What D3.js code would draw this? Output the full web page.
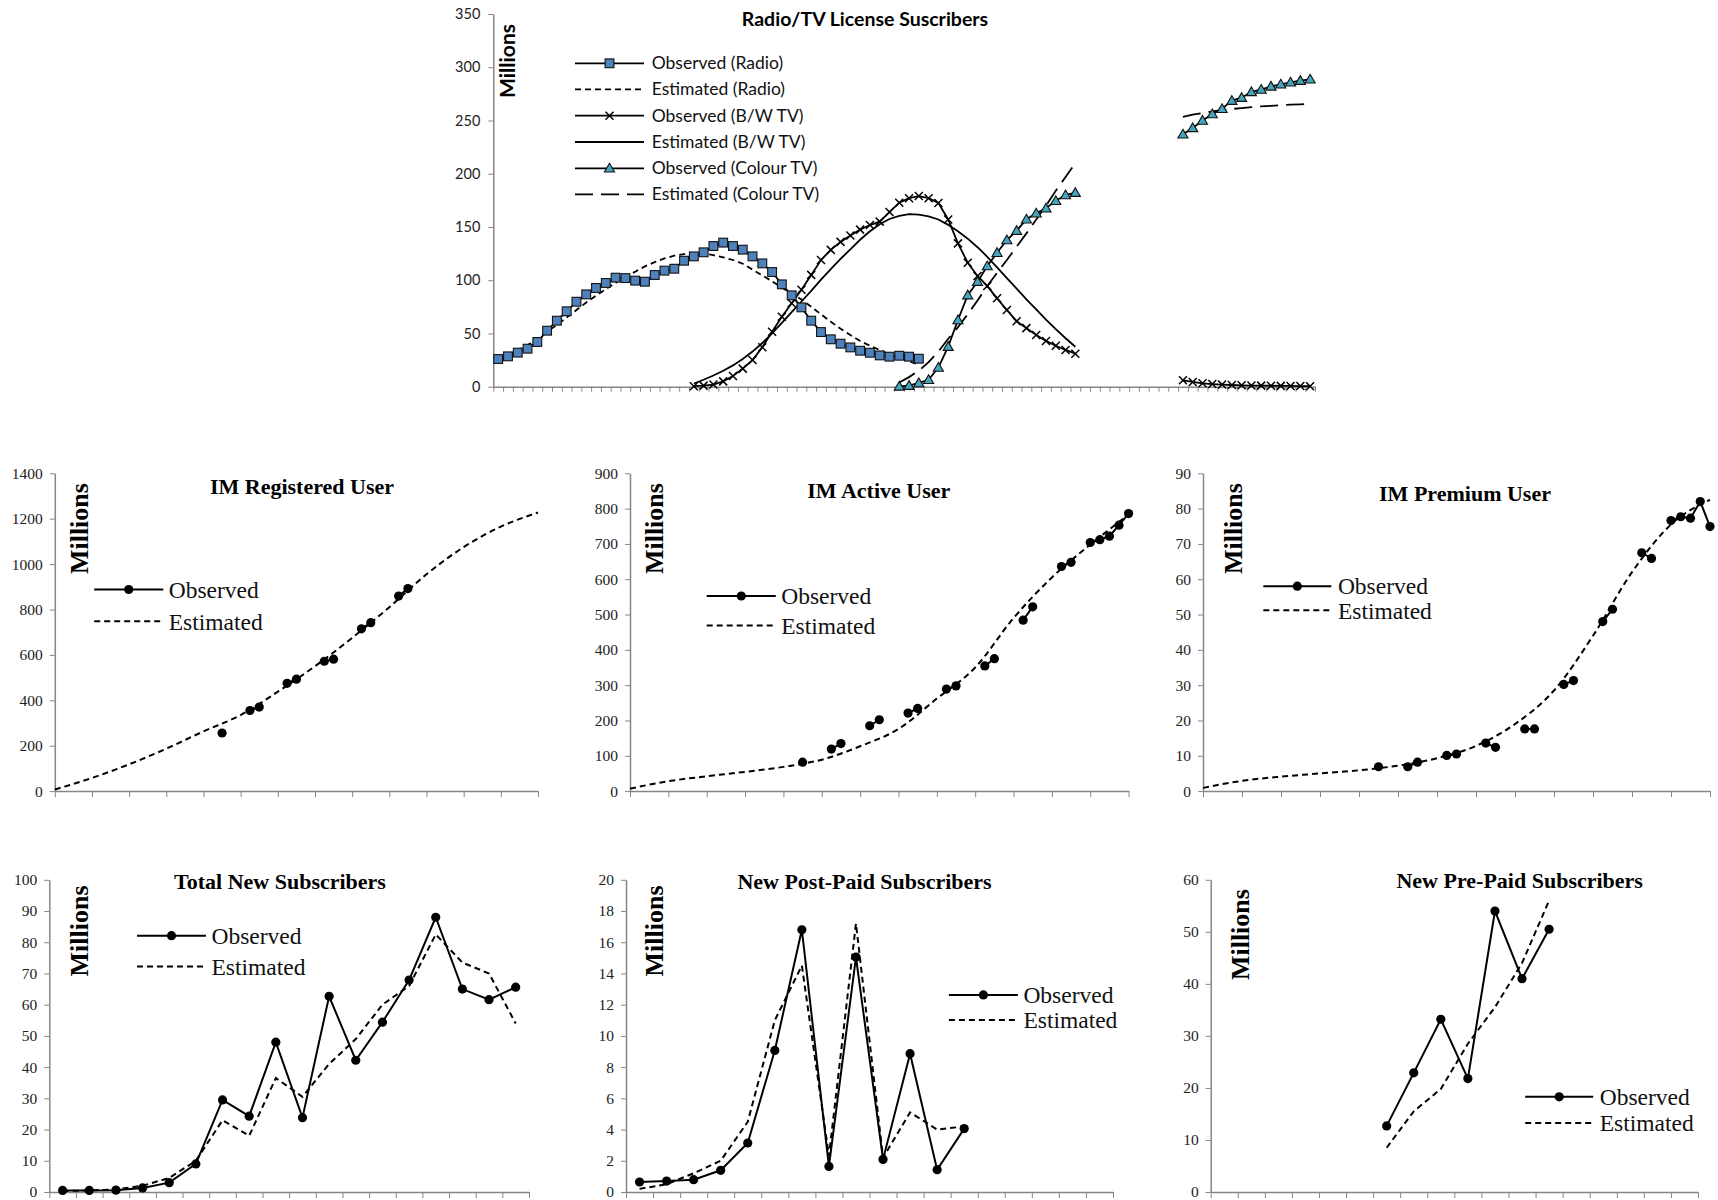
<!DOCTYPE html>
<html><head><meta charset="utf-8">
<script src="https://cdn.jsdelivr.net/npm/d3@7"></script>
<style>body{margin:0;background:#fff}svg{display:block}</style>
</head><body>
<svg id="c" width="1718" height="1200"></svg>
<script>
// ---------------- DATA ----------------
// Top chart: 84 periods (category index)
const tvPeriods = Array.from({length: 84}, (_, i) => i);
const tvYTicks = [0, 50, 100, 150, 200, 250, 300, 350];

const radioObsStart = 0;
const radioObs = [26,28.5,32,35.7,42,52.6,62,70.8,79.8,86.7,92.7,97.4,102.4,102,99.6,98.6,104.9,109,110.8,118.3,122.4,126.2,132.1,135.3,132.1,128.7,122.4,115.8,107.7,96.1,85.8,74.5,62,51.3,44.5,40.4,36.9,33.8,31.9,29.4,28.2,29.1,28.2,26.3];
const radioEstStart = 0;
const radioEst = [27,30,34,39,45,52,58,65,72,79,85.5,91.5,97.5,103,108,113,117,120.5,123,124.5,125.3,125,123.5,121.5,119,115.5,110,104.5,99,93,87.5,82,75,68,61,54.5,48.5,43,38.5,34.5,30.5,27,24,20.5];

const bwObsStart = 20;
const bwObs = [0.5,1,2,5,10,17,25,37,51.6,65.7,78.3,91,105,119,128.5,136,142,147.5,151.8,155,164,172.8,177,179,177,172.5,157,134.6,116.4,104,94.5,83,72,61.5,55,48.5,43,38.5,34.5,31];
const bwObs2Start = 70;
const bwObs2 = [6,4.5,3.2,2.5,2,1.6,1.3,1.1,1,0.9,0.8,0.7,0.6,0.5];
const bwEstStart = 20;
const bwEst = [3,6.5,10.5,15,20,26,33,41,50,60,70,80,90,100.5,110.5,120,129,138,146,152.5,157.5,160.5,162,161.5,160,157,152,146,139,131,122,112,102,92,82,72.5,63,54,45.5,37.5];

const colObsStart = 41;
const colObs = [0.3,1,3.5,6.5,18,37.6,62.6,86,98.6,113.3,125.8,137.7,146.5,157.2,162.8,167.5,174.6,180,182.2];
const colObs2Start = 70;
const colObs2 = [237,243,250,256,261,268.6,271.4,276.8,279,282,284,285.8,287.4,288.7];
const colEstStart = 41;
const colEst = [4,9,15,23,33,45,56,68,81,94.5,107,119,131.5,144,157,170,184,197,210];
const colEst2Start = 70;
const colEst2 = [253.5,255.5,257,258.5,259.8,260.8,261.7,262.5,263.2,263.8,264.3,264.8,265.2,265.6];

// IM charts: x in years (0..13), observed at quarter positions
const imYears = [0,1,2,3,4,5,6,7,8,9,10,11,12,13];
const regQuarters = [18,21,22,25,26,29,30,33,34,37,38];
const regObs = [256,355,370,475,493,572,581,715,742,859,892];
const regEst = [7,58,118,187,263,335,438,550,675,810,955,1075,1165,1227];

const actQuarters = [18,21,22,25,26,29,30,33,34,37,38,41,42,45,46,48,49,50,51,52];
const actObs = [81.8,119,134.5,185,202,221,234,289,298,354.5,375,484,522,636,648,704,712,722,753,786];
const actEst = [7,28,42,54.5,68.6,89,127,176,262,350,490,605,698,783];

const premQuarters = [18,21,22,25,26,29,30,33,34,37,38,41,42,45,46,48,49,50,51,52];
const premObs = [6.9,6.9,8.2,10.1,10.5,13.6,12.4,17.6,17.6,30.2,31.3,48,51.5,67.5,65.9,76.6,77.7,77.3,82,74.9];
const premEst = [0.9,2.9,4.1,5.0,5.9,7.2,9.3,12.8,19.0,28.5,44,62,75.5,82.5];

// Subscriber charts: 18 periods
const subPeriods = Array.from({length: 18}, (_, i) => i);
const totalObs = [0.5,0.5,0.6,1.3,3,9,29.5,24.3,48,23.8,62.7,42.2,54.4,67.9,88,65,61.6,65.6];
const totalEst = [0.3,0.5,0.8,2,4.5,10,23,18,36.5,30.5,41,49,60,66,82.5,73.5,70,54];
const postStart = 0;
const postObs = [0.64,0.7,0.79,1.39,3.14,9.07,16.8,1.64,15.05,2.09,8.86,1.43,4.06];
const postEst = [0.2,0.5,1.2,2,4.5,11,14.5,2.3,17.2,2.2,5.1,4,4.2];
const preStart = 6;
const preObs = [12.7,22.9,33.2,21.8,54,41,50.5];
const preEst = [8.5,15.5,19.8,28.5,35.5,44,56];

// ---------------- DRAWING ----------------
const svg = d3.select('#c');
const AX = '#868686';
const SANS = 'Lato, "Open Sans", sans-serif';
const SERIF = '"Liberation Serif", "Times New Roman", serif';

function styleAxis(g) {
  g.select('.domain').attr('stroke', AX).attr('stroke-width', 1.5);
  g.selectAll('.tick line').attr('stroke', AX).attr('stroke-width', 1);
}

// ===== Top chart =====
const tv = {left: 493.3, right: 1315, top: 14, bottom: 386.7};
const xTV = d3.scaleBand().domain(tvPeriods).range([tv.left, tv.right]);
const xTVb = d3.scaleLinear().domain([0, tvPeriods.length]).range([tv.left, tv.right]);
const yTV = d3.scaleLinear().domain([0, 350]).range([tv.bottom, tv.top]);
const cx = i => xTV(i) + xTV.bandwidth() / 2;

const gTop = svg.append('g');
gTop.append('g').attr('transform', `translate(0,${tv.bottom})`)
  .call(d3.axisBottom(xTVb).tickValues(d3.range(tvPeriods.length + 1)).tickSize(5).tickSizeOuter(0).tickFormat(''))
  .call(styleAxis);
gTop.append('g').attr('transform', `translate(${tv.left},0)`)
  .call(d3.axisLeft(yTV).tickValues(tvYTicks).tickSize(5).tickSizeOuter(0).tickPadding(8).tickFormat(d3.format('d')))
  .call(styleAxis)
  .call(g => g.selectAll('text').attr('font-family', SANS).attr('font-size', 14.5).attr('fill', '#222'));

const pts = (start, vals) => vals.map((v, j) => ({i: start + j, v}));
const lineTV = d3.line().x(d => cx(d.i)).y(d => yTV(d.v));

function tvPath(data, dash) {
  gTop.append('path').datum(data).attr('d', lineTV)
    .attr('fill', 'none').attr('stroke', '#000').attr('stroke-width', 1.8)
    .attr('stroke-dasharray', dash || null);
}
const sq = (g, x, y) => g.append('rect').attr('x', x - 4.4).attr('y', y - 4.4).attr('width', 8.8).attr('height', 8.8)
  .attr('fill', '#4F81BD').attr('stroke', '#111').attr('stroke-width', 1.1);
const xm = (g, x, y) => g.append('path').attr('d', `M${x-4},${y-4}L${x+4},${y+4}M${x-4},${y+4}L${x+4},${y-4}`)
  .attr('stroke', '#000').attr('stroke-width', 1.5);
const tri = (g, x, y) => g.append('path').attr('d', d3.symbol(d3.symbolTriangle, 44)()).attr('transform', `translate(${x},${y+0.8})`)
  .attr('fill', '#45A5BD').attr('stroke', '#111').attr('stroke-width', 1.1);

// estimated lines
tvPath(pts(radioEstStart, radioEst), '6,4');
tvPath(pts(bwEstStart, bwEst));
tvPath(pts(colEstStart, colEst), '18,8');
tvPath(pts(colEst2Start, colEst2), '18,8');
// observed lines
tvPath(pts(radioObsStart, radioObs));
tvPath(pts(bwObsStart, bwObs));
tvPath(pts(bwObs2Start, bwObs2));
tvPath(pts(colObsStart, colObs));
tvPath(pts(colObs2Start, colObs2));
// markers
pts(bwObsStart, bwObs).concat(pts(bwObs2Start, bwObs2)).forEach(d => xm(gTop, cx(d.i), yTV(d.v)));
pts(radioObsStart, radioObs).forEach(d => sq(gTop, cx(d.i), yTV(d.v)));
pts(colObsStart, colObs).concat(pts(colObs2Start, colObs2)).forEach(d => tri(gTop, cx(d.i), yTV(d.v)));

// title & label
gTop.append('text').attr('x', 865).attr('y', 19).attr('dy', '0.35em').attr('text-anchor', 'middle')
  .attr('font-family', SANS).attr('font-weight', 'bold').attr('font-size', 19.5).text('Radio/TV License Suscribers');
gTop.append('text').attr('transform', 'translate(508,61) rotate(-90)').attr('dy', '0.35em').attr('text-anchor', 'middle')
  .attr('font-family', SANS).attr('font-weight', 'bold').attr('font-size', 21).text('Millions');

// legend
const tvLegend = [
  {label: 'Observed (Radio)', dash: null, m: sq},
  {label: 'Estimated (Radio)', dash: '6,4', m: null},
  {label: 'Observed (B/W TV)', dash: null, m: xm},
  {label: 'Estimated (B/W TV)', dash: null, m: null},
  {label: 'Observed (Colour TV)', dash: null, m: tri},
  {label: 'Estimated (Colour TV)', dash: '18,8', m: null}
];
const tvLegY = [63.3, 89.3, 115.7, 142, 168.3, 194.3];
tvLegend.forEach((d, k) => {
  const y = tvLegY[k];
  gTop.append('line').attr('x1', 575).attr('x2', 644).attr('y1', y).attr('y2', y)
    .attr('stroke', '#000').attr('stroke-width', 1.8).attr('stroke-dasharray', d.dash);
  if (d.m) d.m(gTop, 609.5, y);
  gTop.append('text').attr('x', 651.7).attr('y', y).attr('dy', '0.35em')
    .attr('font-family', SANS).attr('font-size', 17.5).attr('fill', '#111').text(d.label);
});

// ===== Bottom panels =====
function panel(cfg) {
  const g = svg.append('g');
  const y = d3.scaleLinear().domain([0, cfg.yMax]).range([cfg.y0, cfg.y1]);
  let xPos, xAxisScale, tickVals;
  if (cfg.mode === 'years') {
    xAxisScale = d3.scaleLinear().domain([0, imYears[imYears.length - 1]]).range([cfg.x0, cfg.x1]);
    tickVals = imYears;
    xPos = v => xAxisScale(v);
  } else {
    const band = d3.scaleBand().domain(subPeriods).range([cfg.x0, cfg.x1]);
    xAxisScale = d3.scaleLinear().domain([0, subPeriods.length]).range([cfg.x0, cfg.x1]);
    tickVals = d3.range(subPeriods.length + 1);
    xPos = i => band(i) + band.bandwidth() / 2;
  }
  g.append('g').attr('transform', `translate(0,${cfg.y0})`)
    .call(d3.axisBottom(xAxisScale).tickValues(tickVals).tickSize(6).tickSizeOuter(0).tickFormat(''))
    .call(styleAxis);
  g.append('g').attr('transform', `translate(${cfg.x0},0)`)
    .call(d3.axisLeft(y).tickValues(d3.range(0, cfg.yMax + cfg.yStep / 2, cfg.yStep)).tickSize(5).tickSizeOuter(0).tickPadding(7).tickFormat(d3.format('d')))
    .call(styleAxis)
    .call(gg => gg.selectAll('text').attr('font-family', SERIF).attr('font-size', 15.5).attr('fill', '#222'));

  const line = d3.line().defined(d => d != null && d.v != null).x(d => xPos(d.x)).y(d => y(d.v));
  const curveLine = d3.line().curve(d3.curveMonotoneX).x(d => xPos(d.x)).y(d => y(d.v));
  // estimated
  g.append('path').datum(cfg.est).attr('d', cfg.smooth ? curveLine : line)
    .attr('fill', 'none').attr('stroke', '#000').attr('stroke-width', 2).attr('stroke-dasharray', '6,4');
  // observed, connect only consecutive steps
  const obsWithGaps = [];
  cfg.obs.forEach((d, k) => {
    if (k > 0 && d.step - cfg.obs[k - 1].step > 1) obsWithGaps.push(null);
    obsWithGaps.push(d);
  });
  g.append('path').datum(obsWithGaps).attr('d', line)
    .attr('fill', 'none').attr('stroke', '#000').attr('stroke-width', 2);
  g.selectAll('circle.o').data(cfg.obs).join('circle').attr('class', 'o')
    .attr('cx', d => xPos(d.x)).attr('cy', d => y(d.v)).attr('r', 4.6).attr('fill', '#000');

  g.append('text').attr('x', cfg.titleX).attr('y', cfg.titleY).attr('dy', '0.35em').attr('text-anchor', 'middle')
    .attr('font-family', SERIF).attr('font-weight', 'bold').attr('font-size', 22).text(cfg.title);
  g.append('text').attr('transform', `translate(${cfg.millX},${cfg.millY}) rotate(-90)`).attr('dy', '0.35em')
    .attr('text-anchor', 'middle').attr('font-family', SERIF).attr('font-weight', 'bold').attr('font-size', 26).text('Millions');

  const [lx0, lx1, tx] = cfg.leg;
  cfg.legY.forEach((ly, k) => {
    g.append('line').attr('x1', lx0).attr('x2', lx1).attr('y1', ly).attr('y2', ly)
      .attr('stroke', '#000').attr('stroke-width', 2).attr('stroke-dasharray', k === 1 ? '6,4' : null);
    if (k === 0) g.append('circle').attr('cx', (lx0 + lx1) / 2).attr('cy', ly).attr('r', 4.6).attr('fill', '#000');
    g.append('text').attr('x', tx).attr('y', ly).attr('dy', '0.35em').attr('font-family', SERIF)
      .attr('font-size', 23.5).attr('fill', '#111').text(k === 0 ? 'Observed' : 'Estimated');
  });
}

const qObs = (qs, vals) => qs.map((q, k) => ({step: q, x: q / 4, v: vals[k]}));
const yEst = vals => vals.map((v, k) => ({x: imYears[k], v}));
const cObs = (start, vals) => vals.map((v, k) => ({step: start + k, x: subPeriods[start + k], v}));
const cEst = (start, vals) => vals.map((v, k) => ({x: subPeriods[start + k], v}));

const topRow = {y0: 791.1, y1: 473.3, mode: 'years', smooth: true};
const botRow = {y0: 1192, y1: 879.8, mode: 'cat', smooth: false};

panel(Object.assign({}, topRow, {x0: 54.8, x1: 538, yMax: 1400, yStep: 200, title: 'IM Registered User',
  titleX: 302, titleY: 486.5, millX: 79, millY: 528.6, leg: [94.2, 163.3, 168.7], legY: [589.5, 621.3],
  obs: qObs(regQuarters, regObs), est: yEst(regEst)}));
panel(Object.assign({}, topRow, {x0: 630, x1: 1128.6, yMax: 900, yStep: 100, title: 'IM Active User',
  titleX: 878.8, titleY: 489.8, millX: 654, millY: 528.6, leg: [706.7, 775.8, 781.2], legY: [596, 625.6],
  obs: qObs(actQuarters, actObs), est: yEst(actEst)}));
panel(Object.assign({}, topRow, {x0: 1203, x1: 1710, yMax: 90, yStep: 10, title: 'IM Premium User',
  titleX: 1465, titleY: 493, millX: 1232.7, millY: 528.6, leg: [1263.3, 1331.3, 1337.9], legY: [586.2, 610.3],
  obs: qObs(premQuarters, premObs), est: yEst(premEst)}));

panel(Object.assign({}, botRow, {x0: 49.3, x1: 529, yMax: 100, yStep: 10, title: 'Total New Subscribers',
  titleX: 280, titleY: 881, millX: 79, millY: 931, leg: [137, 206, 211.5], legY: [935.7, 966.4],
  obs: cObs(0, totalObs), est: cEst(0, totalEst)}));
panel(Object.assign({}, botRow, {x0: 626, x1: 1113, yMax: 20, yStep: 2, title: 'New Post-Paid Subscribers',
  titleX: 864.5, titleY: 881, millX: 654, millY: 931, leg: [948.9, 1017.9, 1023.4], legY: [994.9, 1020.1],
  obs: cObs(postStart, postObs), est: cEst(postStart, postEst)}));
panel(Object.assign({}, botRow, {x0: 1210.7, x1: 1698, yMax: 60, yStep: 10, title: 'New Pre-Paid Subscribers',
  titleX: 1519.7, titleY: 880, millX: 1240, millY: 934.6, leg: [1525.2, 1593.2, 1599.7], legY: [1096.8, 1123.1],
  obs: cObs(preStart, preObs), est: cEst(preStart, preEst)}));
</script>
</body></html>
